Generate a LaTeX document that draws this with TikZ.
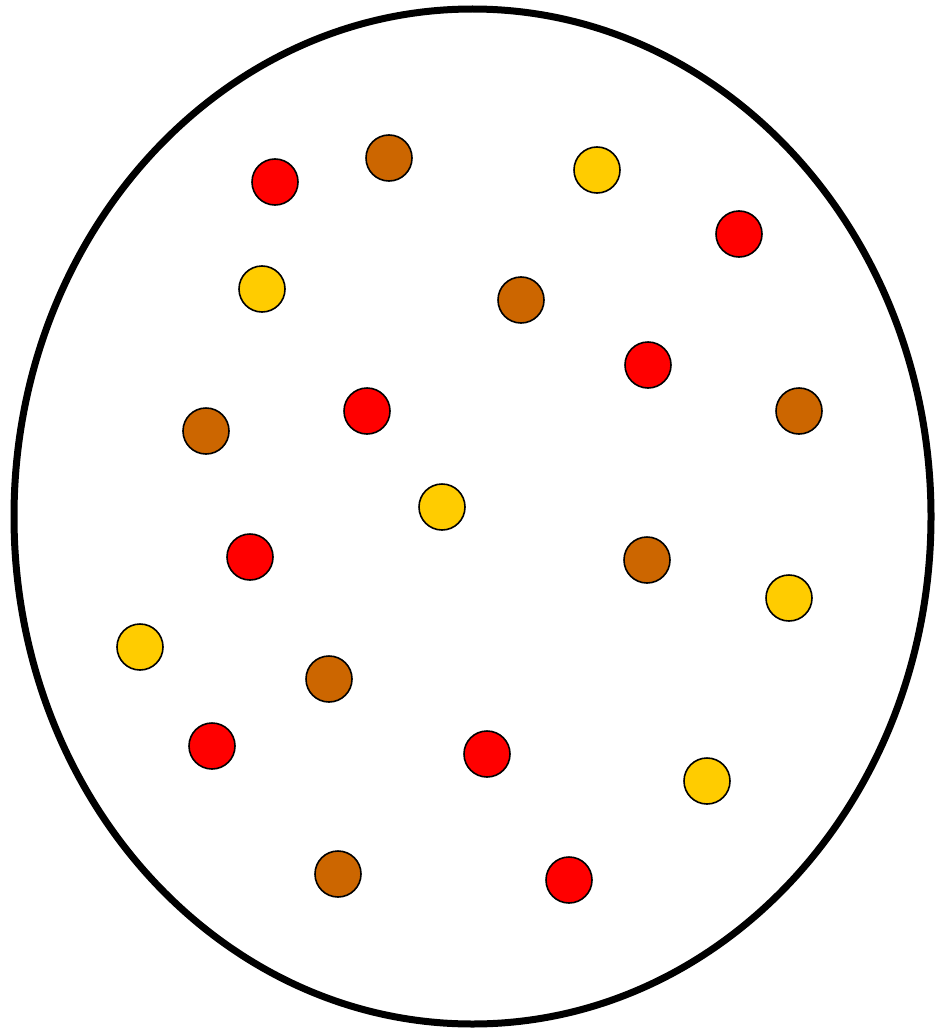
\documentclass[tikz,border=0pt]{standalone}
\definecolor{dotred}{RGB}{255,0,0}
\definecolor{dotbrown}{RGB}{204,102,0}
\definecolor{dotyellow}{RGB}{255,204,0}
\begin{document}
\begin{tikzpicture}[x=1pt,y=-1pt,
  dot/.style={circle,draw=black,line width=1.6pt,minimum size=46pt,inner sep=0pt},
  rd/.style={dot,fill=dotred},
  br/.style={dot,fill=dotbrown},
  ye/.style={dot,fill=dotyellow}]
\useasboundingbox (0,0) rectangle (937,1030);
\fill[white] (0,0) rectangle (937,1030);
\draw[line width=7pt] (472.5,516.5) ellipse [x radius=458.5, y radius=507.5];
% red
\node[rd] (r1) at (275,182) {};
\node[rd] (r2) at (739,234) {};
\node[rd] (r3) at (648,365) {};
\node[rd] (r4) at (367,411) {};
\node[rd] (r5) at (250,557) {};
\node[rd] (r6) at (212,746) {};
\node[rd] (r7) at (487,754) {};
\node[rd] (r8) at (569,880) {};
% brown
\node[br] (b1) at (389,158) {};
\node[br] (b2) at (521,300) {};
\node[br] (b3) at (206,431) {};
\node[br] (b4) at (799,411) {};
\node[br] (b5) at (647,560) {};
\node[br] (b6) at (329,679) {};
\node[br] (b7) at (338,874) {};
% yellow
\node[ye] (y1) at (597,170) {};
\node[ye] (y2) at (262,289) {};
\node[ye] (y3) at (442,507) {};
\node[ye] (y4) at (789,598) {};
\node[ye] (y5) at (140,647) {};
\node[ye] (y6) at (707,781) {};
\end{tikzpicture}
\end{document}
